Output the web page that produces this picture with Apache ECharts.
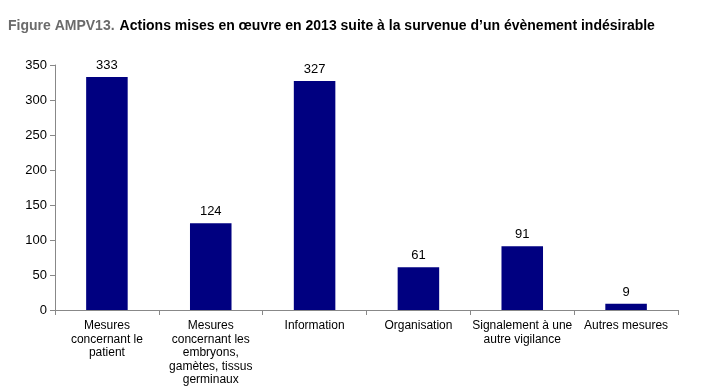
<!DOCTYPE html>
<html><head><meta charset="utf-8">
<script src="https://cdn.jsdelivr.net/npm/echarts@6/dist/echarts.min.js"></script>
<style>html,body{margin:0;padding:0;background:#fff}#c{width:703px;height:391px}</style>
</head><body><div id="c"></div>
<script>
const categories = [
  "Mesures\nconcernant le\npatient",
  "Mesures\nconcernant les\nembryons,\ngamètes, tissus\ngerminaux",
  "Information",
  "Organisation",
  "Signalement à une\nautre vigilance",
  "Autres mesures"
];
const values = [333, 124, 327, 61, 91, 9];
const yTicks = [0, 50, 100, 150, 200, 250, 300, 350];

const chart = echarts.init(document.getElementById('c'));
chart.setOption({
  animation: false,
  textStyle: { fontFamily: 'Liberation Sans, Arial, sans-serif' },
  title: {
    left: 8, top: 17, padding: 0,
    text: '{g|Figure AMPV13.} {b|Actions mises en œuvre en 2013 suite à la survenue d’un évènement indésirable}',
    textStyle: {
      rich: {
        g: { color: '#6b6b6b', fontWeight: 'bold', fontSize: 14, fontFamily: 'Liberation Sans, Arial, sans-serif' },
        b: { color: '#000', fontWeight: 'bold', fontSize: 14, fontFamily: 'Liberation Sans, Arial, sans-serif' }
      }
    }
  },
  grid: { left: 55, right: 25, top: 65, bottom: 81, containLabel: false },
  xAxis: {
    type: 'category',
    data: categories,
    axisLine: { lineStyle: { color: '#888' } },
    axisTick: { show: true, alignWithLabel: false, length: 5, lineStyle: { color: '#888' } },
    axisLabel: { color: '#000', fontSize: 12, lineHeight: 13.5, margin: 9, interval: 0 }
  },
  yAxis: {
    type: 'value',
    min: yTicks[0], max: yTicks[yTicks.length - 1], interval: 50,
    axisLine: { show: true, lineStyle: { color: '#888' } },
    axisTick: { show: true, length: 5, lineStyle: { color: '#888' } },
    splitLine: { show: false },
    axisLabel: { color: '#000', fontSize: 13, margin: 8 }
  },
  series: [{
    type: 'bar',
    data: values,
    barWidth: '40%',
    itemStyle: { color: '#000080' },
    label: { show: true, position: 'top', color: '#000', fontSize: 13, distance: 5 }
  }]
});
</script></body></html>
